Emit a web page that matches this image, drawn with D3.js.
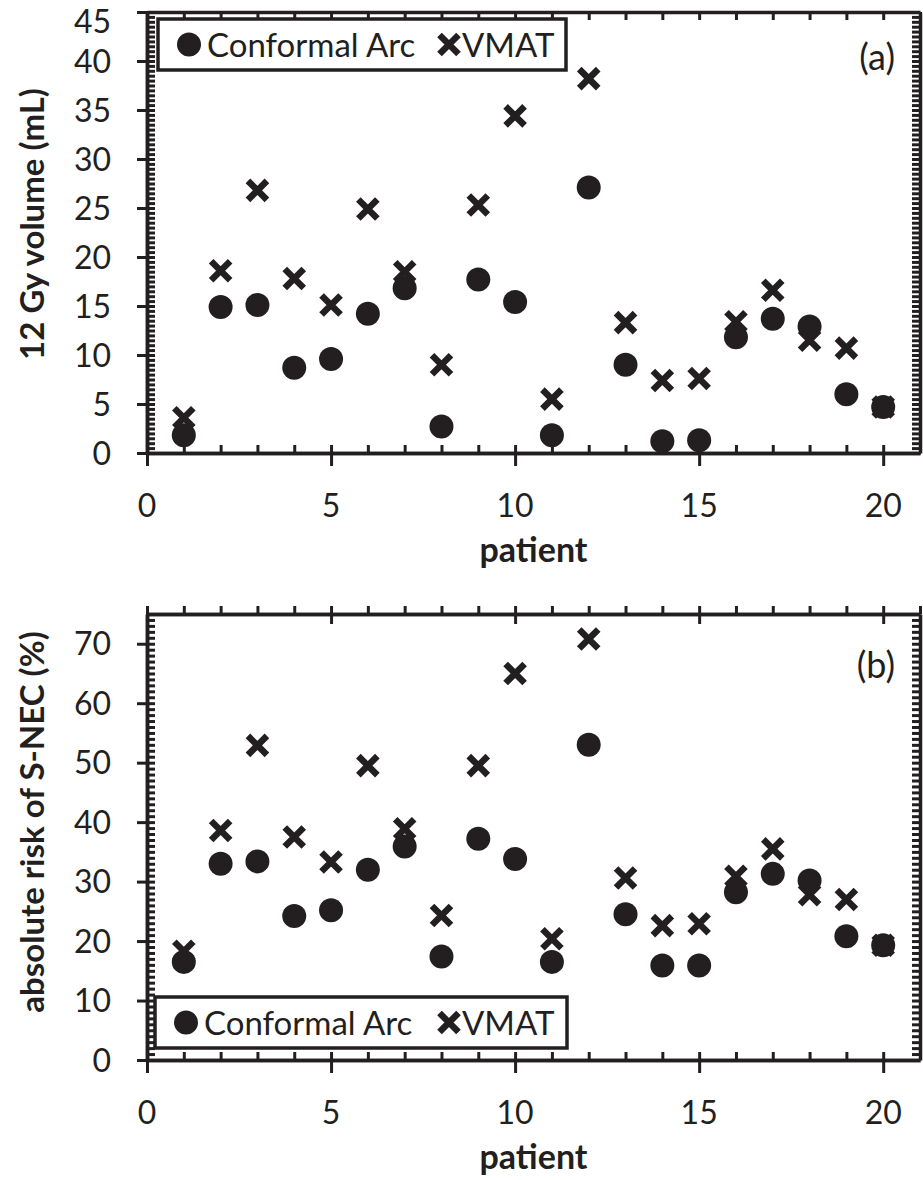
<!DOCTYPE html>
<html>
<head>
<meta charset="utf-8">
<script src="https://cdn.jsdelivr.net/npm/d3@7"></script>
<style>
  html, body { margin: 0; padding: 0; background: #fff; }
  svg { display: block; }
  text { font-family: Lato, "Open Sans", sans-serif; fill: #231f20; }
</style>
</head>
<body>
<svg id="chart" width="923" height="1180"></svg>
<script>
// ---- data ----
const patients = [1, 2, 3, 4, 5, 6, 7, 8, 9, 10, 11, 12, 13, 14, 15, 16, 17, 18, 19, 20];
const seriesNames = ["Conformal Arc", "VMAT"];
const volumeConformalArc = [1.8, 14.9, 15.1, 8.7, 9.6, 14.2, 16.8, 2.7, 17.7, 15.4, 1.8, 27.1, 9.0, 1.2, 1.3, 11.8, 13.7, 12.9, 6.0, 4.7];
const volumeVMAT = [3.6, 18.6, 26.8, 17.8, 15.1, 24.9, 18.5, 9.0, 25.3, 34.4, 5.5, 38.2, 13.3, 7.4, 7.6, 13.4, 16.6, 11.5, 10.7, 4.7];
const riskConformalArc = [16.5, 33.0, 33.4, 24.2, 25.2, 32.0, 35.9, 17.4, 37.2, 33.8, 16.5, 53.0, 24.5, 15.9, 15.9, 28.2, 31.3, 30.2, 20.8, 19.3];
const riskVMAT = [18.3, 38.6, 52.9, 37.5, 33.3, 49.5, 38.9, 24.3, 49.5, 65.0, 20.4, 70.8, 30.6, 22.6, 22.9, 30.9, 35.5, 27.8, 27.0, 19.3];
const xTickLabels = [0, 5, 10, 15, 20];
const yTicksA = [0, 5, 10, 15, 20, 25, 30, 35, 40, 45];
const yTicksB = [0, 10, 20, 30, 40, 50, 60, 70];
const xTitle = "patient";
const yTitleA = "12 Gy volume (mL)";
const yTitleB = "absolute risk of S-NEC (%)";

// ---- drawing ----
const svg = d3.select("#chart");
const ink = "#231f20";
const left = 147, right = 920;

function panel(opts) {
  const g = svg.append("g");
  const x = d3.scaleLinear().domain([0, 21]).range([left, right]);
  const y = d3.scaleLinear().domain([0, opts.yMax]).range([opts.bottom, opts.top]);
  const minorY = d3.range(0, opts.yMax + 1e-9, opts.minorStep);
  const ints = d3.range(0, 22);

  function styleAxis(sel) {
    sel.selectAll("path.domain").attr("stroke", ink).attr("stroke-width", 3.5);
    sel.selectAll(".tick line").attr("stroke", ink).attr("stroke-width", 3);
    sel.selectAll(".tick text").remove();
  }

  // left axis: inward minor ticks, outward major ticks
  g.append("g").attr("transform", `translate(${left},0)`)
    .call(d3.axisRight(y).tickValues(minorY).tickSize(8).tickSizeOuter(0)).call(styleAxis);
  g.append("g").attr("transform", `translate(${left},0)`)
    .call(d3.axisLeft(y).tickValues(opts.yTicks).tickSize(10).tickSizeOuter(0)).call(styleAxis);
  // right axis: inward minor ticks
  g.append("g").attr("transform", `translate(${right},0)`)
    .call(d3.axisLeft(y).tickValues(minorY).tickSize(8).tickSizeOuter(0)).call(styleAxis);
  // bottom axis
  g.append("g").attr("transform", `translate(0,${opts.bottom})`)
    .call(d3.axisTop(x).tickValues(ints).tickSize(8).tickSizeOuter(0)).call(styleAxis);
  g.append("g").attr("transform", `translate(0,${opts.bottom})`)
    .call(d3.axisBottom(x).tickValues(xTickLabels).tickSize(13).tickSizeOuter(0)).call(styleAxis);
  // top axis
  if (opts.topStyle === "in") {
    g.append("g").attr("transform", `translate(0,${opts.top})`)
      .call(d3.axisBottom(x).tickValues(ints).tickSize(8).tickSizeOuter(0)).call(styleAxis);
  } else {
    g.append("g").attr("transform", `translate(0,${opts.top})`)
      .call(d3.axisTop(x).tickValues(ints).tickSize(8).tickSizeOuter(0)).call(styleAxis);
    g.append("g").attr("transform", `translate(0,${opts.top})`)
      .call(d3.axisBottom(x).tickValues(xTickLabels).tickSize(10).tickSizeOuter(0)).call(styleAxis);
  }

  // tick labels
  g.selectAll("text.yl").data(opts.yTicks).join("text")
    .attr("class", "yl")
    .attr("x", 111).attr("y", d => Math.max(y(d), 21)).attr("dy", "0.36em")
    .attr("text-anchor", "end").attr("font-size", 32).text(d => d);
  g.selectAll("text.xl").data(xTickLabels).join("text")
    .attr("class", "xl")
    .attr("x", d => x(d)).attr("y", opts.bottom + 64)
    .attr("text-anchor", "middle").attr("font-size", 32).text(d => d);

  // titles
  g.append("text").attr("x", (left + right) / 2).attr("y", opts.bottom + 109)
    .attr("text-anchor", "middle").attr("font-size", 34).attr("font-weight", "bold").text(xTitle);
  g.append("text").attr("transform", `translate(44,${opts.titleY}) rotate(-90)`)
    .attr("text-anchor", "middle").attr("font-size", 33).attr("font-weight", "bold").text(opts.yTitle);
  g.append("text").attr("x", 895).attr("y", opts.labelY)
    .attr("text-anchor", "end").attr("font-size", 36).text(opts.label);

  // markers
  const h = 9.5;
  const xPath = `M${-h},${-h}L${h},${h}M${-h},${h}L${h},${-h}`;
  g.selectAll("circle.ca").data(patients).join("circle")
    .attr("class", "ca")
    .attr("cx", d => x(d)).attr("cy", (d, i) => y(opts.ca[i])).attr("r", 12).attr("fill", ink);
  g.selectAll("path.vm").data(patients).join("path")
    .attr("class", "vm")
    .attr("transform", (d, i) => `translate(${x(d)},${y(opts.vm[i])})`)
    .attr("d", xPath).attr("stroke", ink).attr("stroke-width", 6.5).attr("fill", "none");

  // legend
  const L = opts.legend;
  const lg = g.append("g");
  lg.append("rect").attr("x", L.x).attr("y", L.y).attr("width", L.w).attr("height", L.h)
    .attr("fill", "#fff").attr("stroke", ink).attr("stroke-width", 3.5);
  const cy = L.y + L.h / 2;
  lg.append("circle").attr("cx", L.x + 31).attr("cy", cy).attr("r", 12).attr("fill", ink);
  lg.append("text").attr("x", L.x + 49).attr("y", cy + 12.5).attr("font-size", 33).text(seriesNames[0]);
  lg.append("path").attr("transform", `translate(449,${cy})`).attr("d", xPath)
    .attr("stroke", ink).attr("stroke-width", 6.5).attr("fill", "none");
  lg.append("text").attr("x", 462).attr("y", cy + 12.5).attr("font-size", 33).text(seriesNames[1]);
}

panel({
  top: 12, bottom: 453, yMax: 45, minorStep: 0.5, yTicks: yTicksA,
  ca: volumeConformalArc, vm: volumeVMAT, yTitle: yTitleA, titleY: 224,
  label: "(a)", labelY: 70, topStyle: "in",
  legend: { x: 158, y: 19, w: 408, h: 51 }
});
panel({
  top: 614, bottom: 1060, yMax: 75, minorStep: 1, yTicks: yTicksB,
  ca: riskConformalArc, vm: riskVMAT, yTitle: yTitleB, titleY: 822,
  label: "(b)", labelY: 678, topStyle: "out",
  legend: { x: 155, y: 997, w: 412, h: 51 }
});
</script>
</body>
</html>
